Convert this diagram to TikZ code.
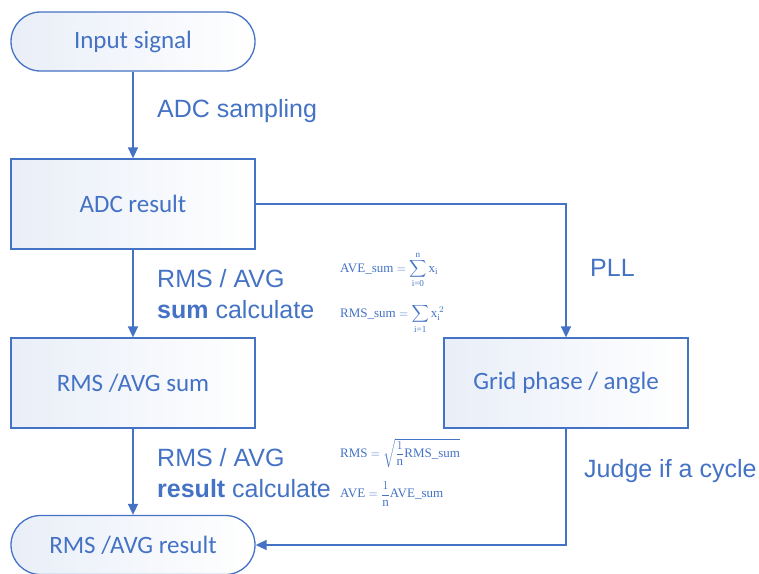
\documentclass[tikz,border=0pt]{standalone}
\usepackage{amsmath}
\usepackage{fontspec}
\setmainfont{Liberation Sans}
\newfontfamily\boxfont{Carlito}
\newfontfamily\formfont{Liberation Serif}
\usetikzlibrary{arrows.meta}
\definecolor{myblue}{HTML}{4472C4}
\begin{document}
\begin{tikzpicture}[x=1pt,y=-1pt,
  box/.style={draw=myblue, line width=1.3pt, left color=myblue!12, right color=white,
    minimum width=244pt, minimum height=90pt, inner sep=0pt,
    font=\boxfont\fontsize{25}{30}\selectfont, text=myblue},
  term/.style={box, rounded corners=29.5pt, minimum height=59pt},
  lbl/.style={font=\fontsize{25}{31}\selectfont, text=myblue, anchor=west, align=left, inner sep=0pt},
  arr/.style={draw=myblue, line width=1.5pt, -{Triangle[length=11pt,width=10pt]}},
  form/.style={font=\formfont\fontsize{13}{15}\selectfont, text=myblue, anchor=west, inner sep=0pt}]
\useasboundingbox (0,0) rectangle (759,573);
\node[term] (in) at (133,41.5) {Input signal};
\node[box] (adc) at (133,204) {ADC result};
\node[box] (sum) at (133,383) {RMS /AVG sum};
\node[term] (res) at (133,545) {RMS /AVG result};
\node[box] (grid) at (566,383) {Grid phase / angle};
\draw[arr] (in) -- (adc);
\draw[arr] (adc) -- (sum);
\draw[arr] (sum) -- (res);
\draw[arr] (adc.east) -| (grid.north);
\draw[arr] (grid.south) |- (res.east);
\node[lbl] (l1) at (157,111) {ADC sampling};
\node[lbl] (l2) at (157,294) {RMS / AVG\\\textbf{sum} calculate};
\node[lbl] (l3) at (157,473) {RMS / AVG\\\textbf{result} calculate};
\node[lbl] (l4) at (590,268) {PLL};
\node[lbl] (l5) at (584,471) {Judge if a cycle};
\node[form] (f1) at (340,270) {$\text{AVE\_sum} = \displaystyle\sum_{\text{i=0}}^{\text{n}} \text{x}_{\text{i}}$};
\node[form] (f2) at (340,319) {$\text{RMS\_sum} = \displaystyle\sum_{\text{i=1}} \text{x}_{\text{i}}^{\,2}$};
\node[form] (f3) at (340,453) {$\text{RMS} = \sqrt{\dfrac{1}{\text{n}}\text{RMS\_sum}}$};
\node[form] (f4) at (340,494) {$\text{AVE} = \dfrac{1}{\text{n}}\text{AVE\_sum}$};
\end{tikzpicture}
\end{document}
